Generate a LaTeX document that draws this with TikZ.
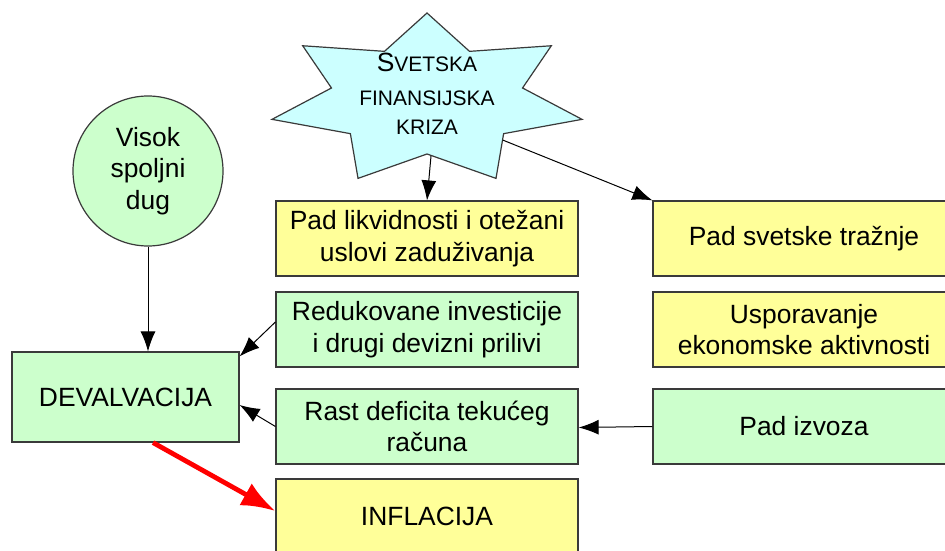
\documentclass[tikz,border=0pt]{standalone}
\usepackage{fontspec}
\setmainfont{Liberation Sans}
\usetikzlibrary{arrows.meta}

\definecolor{zuta}{HTML}{FFFF99}
\definecolor{zelena}{HTML}{CCFFCC}
\definecolor{plava}{HTML}{CCFFFF}
\definecolor{okvir}{HTML}{3A3A3A}

\begin{document}
\begin{tikzpicture}[x=0.5pt, y=-0.5pt, font=\fontsize{13.2}{15.8}\selectfont,
  box/.style={rectangle, draw=okvir, line width=0.6pt, inner sep=0pt, align=center,
    minimum width=151pt, minimum height=37.5pt},
  zbox/.style={box, fill=zuta},
  gbox/.style={box, fill=zelena},
  veza/.style={-{Latex[length=10pt,width=7.5pt]}, line width=0.5pt},
  crvena/.style={-{Latex[length=17pt,width=12.5pt]}, line width=2.4pt, red}]
  \useasboundingbox (0,0) rectangle (945,550);
  \clip (0,0) rectangle (945,550);
  % 7-point star (outer 159x87, inner 98x54)
  \draw[draw=okvir, fill=plava, line width=0.6pt, shift={(427,100)}] (-90:159 and 87)
    \foreach \k in {0,...,6} { -- ({-90+(\k+0.5)*360/7}:98 and 54) -- ({-90+(\k+1)*360/7}:159 and 87) } -- cycle;
  \node[align=center, font=\fontsize{10.5}{14.5}\selectfont] (kriza) at (427,94)
    {{\fontsize{13.2}{14.5}\selectfont S}VETSKA\\[2.5pt]FINANSIJSKA\\KRIZA};
  \coordinate (kdole) at (431,156);
  \coordinate (kdesno) at (502.6,140);
  % left part
  \node[circle, draw=okvir, fill=zelena, line width=0.6pt, minimum size=75pt, inner sep=0pt,
    align=center] (dug) at (148,171) {Visok\\spoljni\\dug};
  \node[gbox, minimum width=113.5pt, minimum height=45pt] (deval) at (125.5,397) {DEVALVACIJA};
  % middle column
  \node[zbox] (likv) at (427,238.5) {Pad likvidnosti i otežani\\uslovi zaduživanja};
  \node[gbox] (redinv) at (427,329.5) {Redukovane investicije\\i drugi devizni prilivi};
  \node[gbox] (deficit) at (427,426.5) {Rast deficita tekućeg\\računa};
  \node[zbox] (inflac) at (427,516.5) {INFLACIJA};
  % right column
  \node[zbox] (traznja) at (804,238.5) {Pad svetske tražnje};
  \node[zbox] (usporav) at (804,329.5) {Usporavanje\\ekonomske aktivnosti};
  \node[gbox] (izvoz) at (804,426.5) {Pad izvoza};
  % arrows
  \draw[veza] (kdole) -- (likv.north);
  \draw[veza] (kdesno) -- (traznja.north west);
  \draw[veza] (dug.south) -- (dug.south |- deval.north);
  \draw[veza] ([yshift=3.75pt]redinv.west) -- ([yshift=-2.5pt]deval.north east);
  \draw[veza] (deficit.west) -- ([yshift=-4pt]deval.east);
  \draw[veza] (izvoz.west) -- ([yshift=-0.5pt]deficit.east);
  \draw[crvena] ([xshift=13.75pt]deval.south) -- ([yshift=2.75pt]inflac.west);
\end{tikzpicture}
\end{document}
